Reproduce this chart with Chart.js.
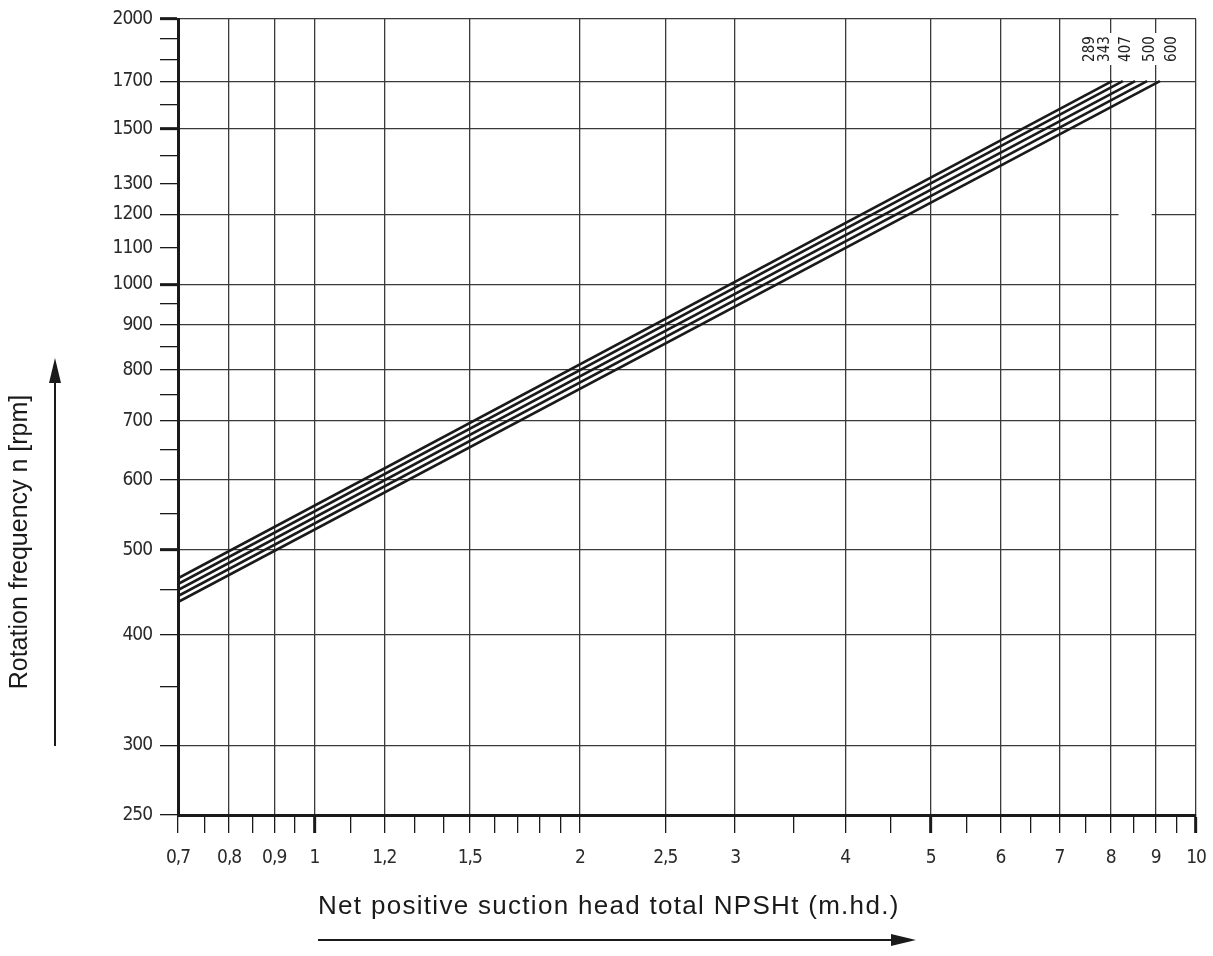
<!DOCTYPE html>
<html>
<head>
<meta charset="utf-8">
<title>NPSHt vs rotation frequency</title>
<script src="https://cdn.jsdelivr.net/npm/chart.js@4.4.1/dist/chart.umd.min.js"></script>
<style>
    html, body { margin: 0; padding: 0; background: #fff; }
    #wrap { width: 1213px; height: 956px; }
</style>
</head>
<body>
<div id="wrap"><canvas id="npsh_chart"></canvas></div>
<script>
/**
 * curves (one per number), straight lines on the log-log paper
 */
let seriesLabels = ['289', '343', '407', '500', '600'];
let startNpsh = [0.7, 0.7, 0.7, 0.7, 0.7];
let startRpm = [464, 457, 450, 443, 436];
let endNpsh = [8.03, 8.26, 8.53, 8.80, 9.10];
let endRpm = [1700, 1700, 1700, 1700, 1700];
// npsh value where each curve number is written above the 1700 line
let seriesLabelNpsh = [7.58, 7.89, 8.33, 8.87, 9.39];

/**
 * x axis: NPSHt
 */
let xLabelled = [0.7, 0.8, 0.9, 1, 1.2, 1.5, 2, 2.5, 3, 4, 5, 6, 7, 8, 9, 10];
let xLabelText = ['0,7', '0,8', '0,9', '1', '1,2', '1,5', '2', '2,5', '3', '4', '5', '6', '7', '8', '9', '10'];
let xMinor = [0.75, 0.85, 0.95, 1.1, 1.3, 1.4, 1.6, 1.7, 1.8, 1.9, 3.5, 4.5, 5.5, 6.5, 7.5, 8.5, 9.5];
let xGrid = [0.8, 0.9, 1, 1.2, 1.5, 2, 2.5, 3, 4, 5, 6, 7, 8, 9, 10];
let xHeavy = [1, 5, 10];

/**
 * y axis: rotation frequency
 */
let yLabelled = [250, 300, 400, 500, 600, 700, 800, 900, 1000, 1100, 1200, 1300, 1500, 1700, 2000];
let yLabelText = ['250', '300', '400', '500', '600', '700', '800', '900', '1000', '1100', '1200', '1300', '1500', '1700', '2000'];
let yMinor = [350, 450, 550, 650, 750, 850, 950, 1400, 1600, 1800, 1900];
let yGrid = [300, 400, 500, 600, 700, 800, 900, 1000, 1200, 1500, 1700, 2000];
let yHeavy = [500, 1000, 1500, 2000];

const tickFont = { family: '"Liberation Sans Narrow", "DejaVu Sans Condensed", sans-serif', size: 19 };
const gridColor = '#3a3a3a';
const inkColor = '#1a1a1a';


/**
 * builds the datasets from the arrays above
 */
function buildDatasets() {
    let datasets = [];
    for (let i = 0; i < seriesLabels.length; i++) {
        datasets.push({
            label: seriesLabels[i],
            data: [
                { x: startNpsh[i], y: startRpm[i] },
                { x: endNpsh[i], y: endRpm[i] }
            ],
            borderColor: inkColor,
            borderWidth: 2.6,
            pointRadius: 0,
            tension: 0
        });
    }
    return datasets;
}


function tickList(labelled, minor) {
    return labelled.concat(minor).sort((a, b) => a - b).map(v => ({ value: v }));
}


/**
 * axis config for one log axis with hand picked ticks
 */
function logAxis(min, max, labelled, labelText, minor, grid, heavy, size, pad) {
    return {
        type: 'logarithmic',
        min: min,
        max: max,
        afterBuildTicks: (scale) => {
            scale.ticks = tickList(labelled, minor);
        },
        afterFit: (scale) => {
            size(scale);
            // no extra room for the end labels, the frame is fixed
            scale.paddingLeft = 0;
            scale.paddingRight = 0;
            scale.paddingTop = 0;
            scale.paddingBottom = 0;
        },
        border: { display: true, color: inkColor, width: 3 },
        grid: {
            drawOnChartArea: true,
            drawTicks: true,
            tickLength: 18,
            color: (ctx) => (ctx.tick && grid.includes(ctx.tick.value)) ? gridColor : 'rgba(0,0,0,0)',
            lineWidth: 1.3,
            tickColor: inkColor,
            tickWidth: (ctx) => (ctx.tick && heavy.includes(ctx.tick.value)) ? 3 : 1.3
        },
        ticks: {
            autoSkip: false,
            maxRotation: 0,
            minRotation: 0,
            padding: pad,
            color: '#2a2a2a',
            font: tickFont,
            callback: (value) => {
                let i = labelled.indexOf(value);
                return i >= 0 ? labelText[i] : '';
            }
        }
    };
}


/**
 * titles, arrows and the curve numbers
 */
const npshDecor = {
    id: 'npshDecor',
    beforeDraw(chart) {
        // the drawing lettering is narrow, pull the digits together a bit
        chart.ctx.letterSpacing = '-1px';
    },
    beforeDatasetsDraw(chart) {
        // the 1200 line is interrupted between the 8 and 9 verticals
        const ctx = chart.ctx;
        const x8 = chart.scales.x.getPixelForValue(8);
        const x9 = chart.scales.x.getPixelForValue(9);
        const y1200 = chart.scales.y.getPixelForValue(1200);
        ctx.save();
        ctx.fillStyle = '#fff';
        ctx.fillRect(x8 + 8, y1200 - 2, x9 - x8 - 12, 4);
        ctx.restore();
    },
    afterDraw(chart) {
        const ctx = chart.ctx;
        const xScale = chart.scales.x;
        const labelY = 49;
        ctx.letterSpacing = '0px';

        ctx.save();
        ctx.font = '15px "DejaVu Sans Condensed", sans-serif';
        ctx.textAlign = 'center';
        ctx.textBaseline = 'middle';
        for (let i = 0; i < seriesLabels.length; i++) {
            let px = xScale.getPixelForValue(seriesLabelNpsh[i]);
            ctx.fillStyle = '#fff';
            ctx.fillRect(px - 7, labelY - 16, 14, 32);
            ctx.save();
            ctx.translate(px, labelY);
            ctx.rotate(-Math.PI / 2);
            ctx.fillStyle = '#222';
            ctx.fillText(seriesLabels[i], 0, 0);
            ctx.restore();
        }
        ctx.restore();

        // y title + arrow
        ctx.save();
        ctx.fillStyle = inkColor;
        ctx.font = '25px "Liberation Sans", Arial, sans-serif';
        ctx.textAlign = 'center';
        ctx.textBaseline = 'middle';
        ctx.translate(20, 542);
        ctx.rotate(-Math.PI / 2);
        ctx.fillText('Rotation frequency n [rpm]', 0, 0);
        ctx.restore();

        ctx.save();
        ctx.fillStyle = inkColor;
        ctx.strokeStyle = inkColor;
        ctx.lineWidth = 2;
        ctx.beginPath();
        ctx.moveTo(55, 746);
        ctx.lineTo(55, 375);
        ctx.stroke();
        ctx.beginPath();
        ctx.moveTo(55, 358);
        ctx.lineTo(49, 383);
        ctx.lineTo(61, 383);
        ctx.closePath();
        ctx.fill();

        // x title + arrow
        ctx.font = '26px "Liberation Sans", Arial, sans-serif';
        ctx.letterSpacing = '1.3px';
        ctx.textAlign = 'left';
        ctx.textBaseline = 'middle';
        ctx.fillText('Net positive suction head total NPSHt (m.hd.)', 318, 907);
        ctx.letterSpacing = '0px';
        ctx.beginPath();
        ctx.moveTo(318, 940);
        ctx.lineTo(898, 940);
        ctx.stroke();
        ctx.beginPath();
        ctx.moveTo(916, 940);
        ctx.lineTo(891, 934);
        ctx.lineTo(891, 946);
        ctx.closePath();
        ctx.fill();
        ctx.restore();
    }
};


const npshChartConfig = {
    type: 'line',
    data: { datasets: buildDatasets() },
    options: {
        responsive: true,
        maintainAspectRatio: false,
        animation: false,
        layout: { padding: { top: 19, right: 17, left: 0, bottom: 0 } },
        scales: {
            x: logAxis(0.7, 10, xLabelled, xLabelText, xMinor, xGrid, xHeavy,
                (scale) => { scale.height = 141; }, 14),
            y: logAxis(250, 2000, yLabelled, yLabelText, yMinor, yGrid, yHeavy,
                (scale) => { scale.width = 178; }, 8)
        },
        plugins: {
            legend: { display: false },
            tooltip: { enabled: false },
            title: { display: false }
        }
    },
    plugins: [npshDecor]
};

const npshChart = new Chart(document.getElementById('npsh_chart'), npshChartConfig);
</script>
</body>
</html>
